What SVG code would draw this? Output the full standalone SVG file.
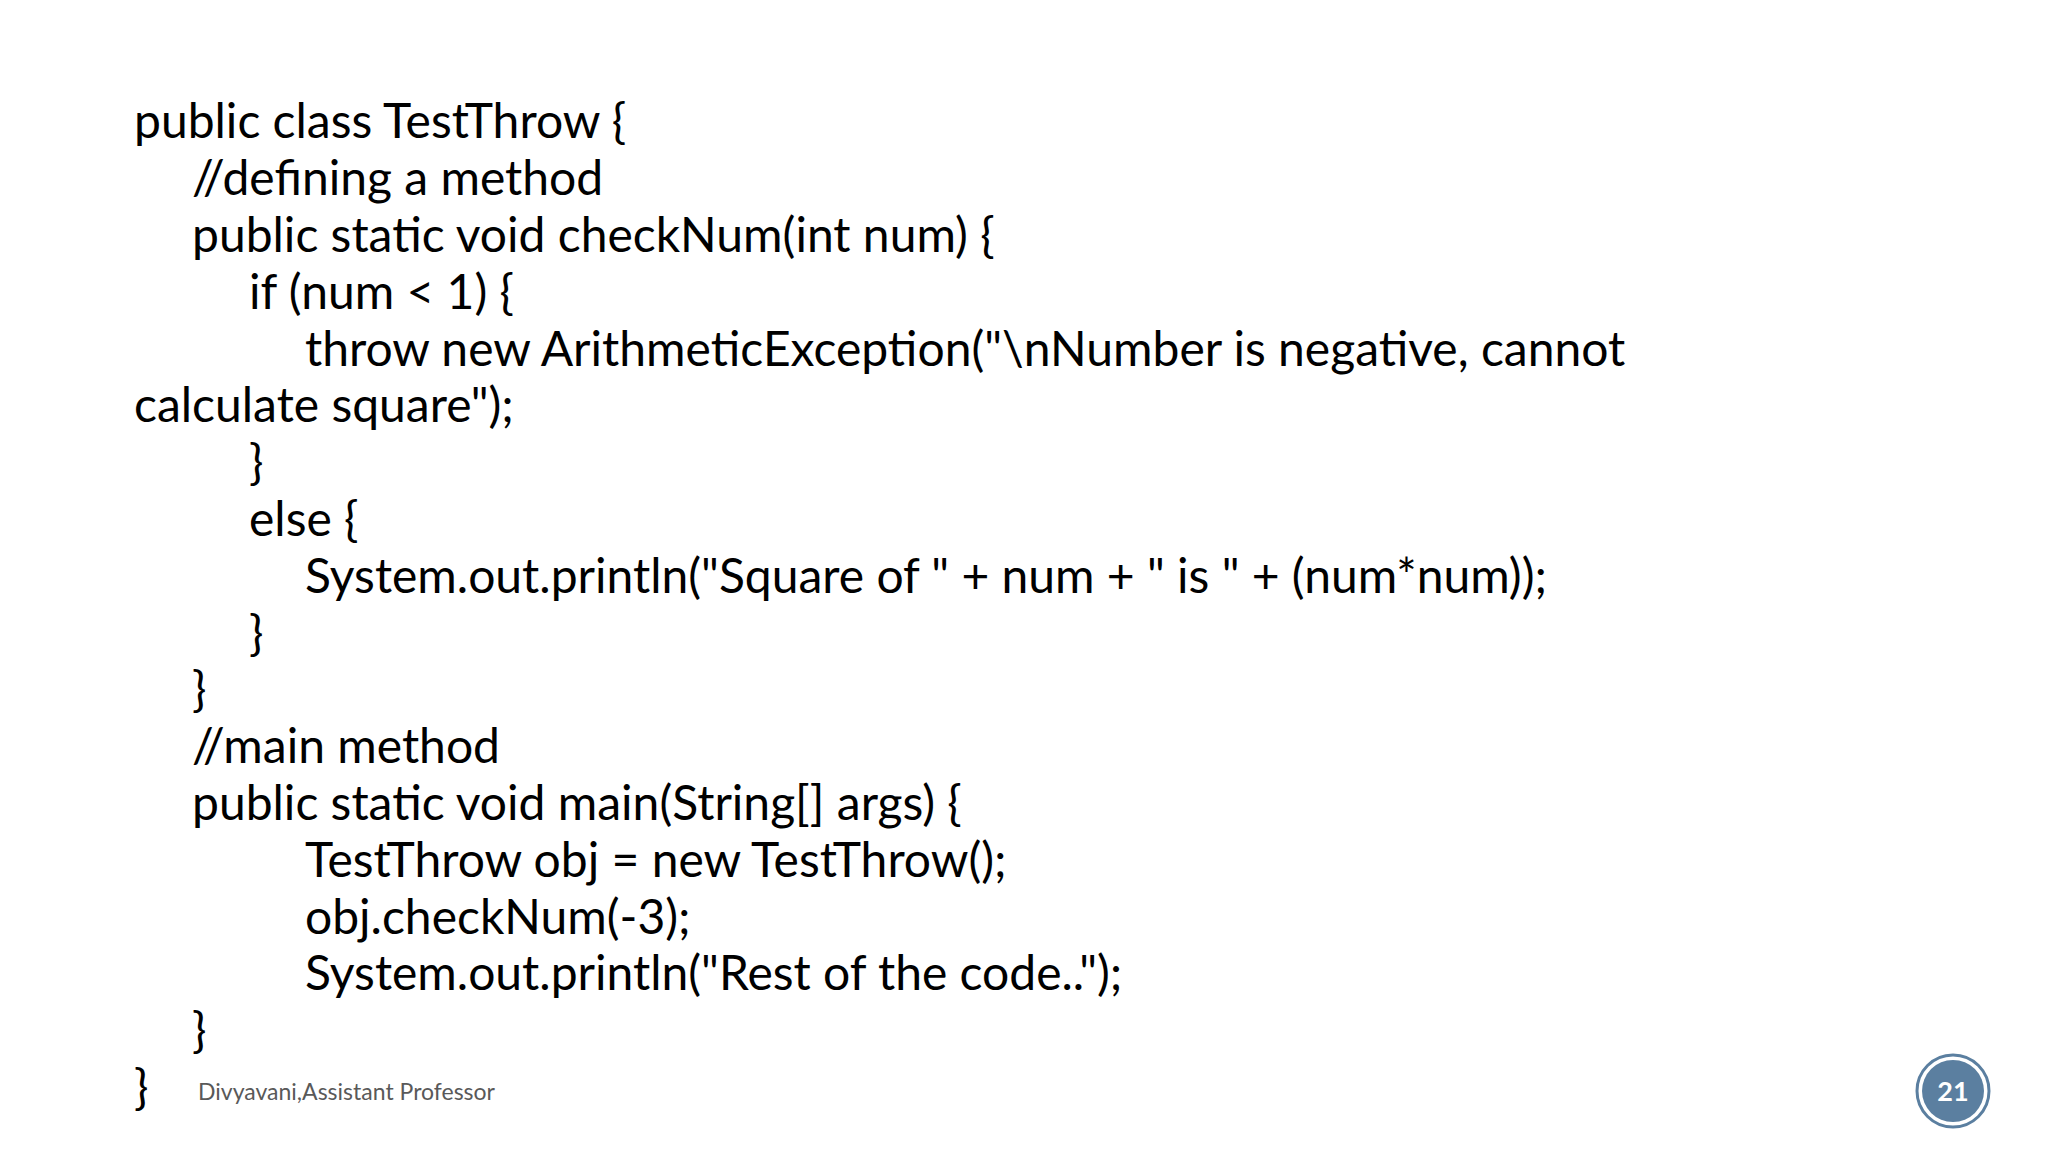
<svg xmlns="http://www.w3.org/2000/svg" width="2048" height="1152" viewBox="0 0 2048 1152">
<style>
.c{font-family:Lato,"DejaVu Sans",sans-serif;font-size:48px;fill:#000}
</style>
<rect width="2048" height="1152" fill="#fff"/>
<g id="code" class="c">
<text x="134" y="138">public class TestThrow {</text>
<text x="192" y="195">//defining a method</text>
<text x="192" y="252">public static void checkNum(int num) {</text>
<text x="249" y="309">if (num &lt; 1) {</text>
<text x="305" y="366">throw new ArithmeticException("\nNumber is negative, cannot</text>
<text x="134" y="422">calculate square");</text>
<text x="249" y="479">}</text>
<text x="249" y="536">else {</text>
<text x="305" y="593">System.out.println("Square of " + num + " is " + (num*num));</text>
<text x="249" y="650">}</text>
<text x="192" y="706">}</text>
<text x="192" y="763">//main method</text>
<text x="192" y="820">public static void main(String[] args) {</text>
<text x="305" y="877">TestThrow obj = new TestThrow();</text>
<text x="305" y="934">obj.checkNum(-3);</text>
<text x="305" y="990">System.out.println("Rest of the code..");</text>
<text x="192" y="1047">}</text>
<text x="134" y="1104">}</text>
</g>
<g id="footer">
<text x="198" y="1100" font-family="Lato,'DejaVu Sans',sans-serif" font-size="23" fill="#595959">Divyavani,Assistant Professor</text>
</g>
<g id="pagenum">
<circle cx="1953" cy="1091" r="36" fill="#fff" stroke="#5b7fa0" stroke-width="3"/>
<circle cx="1953" cy="1091" r="31" fill="#5b7fa0"/>
<text x="1953" y="1101" text-anchor="middle" font-family="Lato,'DejaVu Sans',sans-serif" font-weight="bold" font-size="27" fill="#fff">21</text>
</g>
</svg>
